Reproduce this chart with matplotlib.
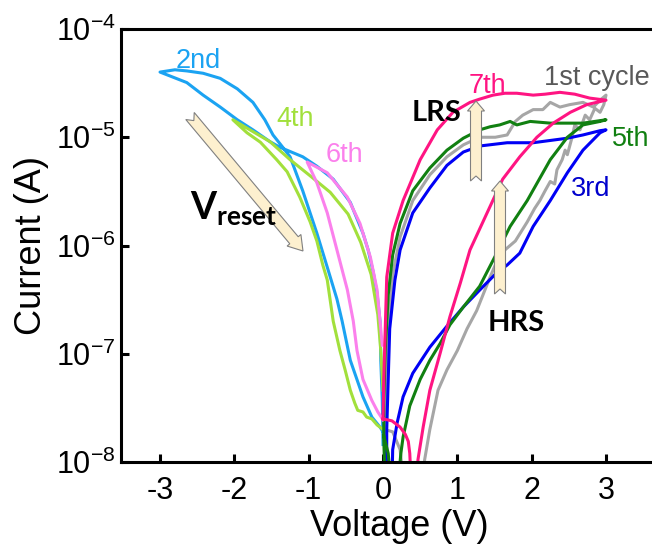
import numpy as np
import matplotlib
matplotlib.use("Agg")
import matplotlib.pyplot as plt
from matplotlib.patches import Polygon
from matplotlib.ticker import FuncFormatter

plt.rcParams["font.family"] = ["Liberation Sans", "DejaVu Sans"]
plt.rcParams["mathtext.fontset"] = "custom"
plt.rcParams["mathtext.rm"] = "Liberation Sans"
plt.rcParams["mathtext.bf"] = "Lato:bold"
plt.rcParams["axes.unicode_minus"] = False

# I-V sweeps, voltage (V) and |current| (A)
v_1st = [0.02, 0.13, 0.23, 0.28, 0.52, 0.56, 0.63, 0.74, 0.86, 1.00, 1.13, 1.26, 1.44, 1.53,
         1.64, 1.78, 1.94, 2.04, 2.11, 2.18, 2.25, 2.31, 2.34, 2.41, 2.45, 2.48, 2.54, 2.58,
         2.65, 2.72, 2.78, 2.85, 2.92, 2.97, 3.00, 2.92, 2.83, 2.69, 2.51, 2.38, 2.25, 2.15,
         2.02, 1.88, 1.78, 1.67, 1.51, 1.30, 1.08, 0.86, 0.63, 0.40, 0.23, 0.13, 0.07, 0.04,
         0.03, 0.04]
i_1st = [2.0e-8, 1.9e-8, 1.3e-8, 6e-9, 6e-9, 1.05e-8, 2.0e-8, 4.6e-8, 7.1e-8, 1.07e-7, 1.7e-7,
         2.5e-7, 5.1e-7, 7.1e-7, 9.1e-7, 1.1e-6, 1.65e-6, 2.2e-6, 2.6e-6, 3.2e-6, 3.9e-6,
         3.7e-6, 5.0e-6, 6.2e-6, 7.6e-6, 6.9e-6, 9.8e-6, 1.3e-5, 1.17e-5, 1.6e-5, 1.45e-5,
         1.85e-5, 1.7e-5, 2.0e-5, 2.45e-5, 2.2e-5, 1.9e-5, 2.1e-5, 2.0e-5, 1.9e-5, 2.1e-5,
         1.8e-5, 1.8e-5, 1.6e-5, 1.4e-5, 1.05e-5, 1.0e-5, 1.0e-5, 8.5e-6, 6.6e-6, 4.5e-6,
         2.6e-6, 1.2e-6, 5.4e-7, 1.7e-7, 5.8e-8, 2.45e-8, 1.45e-8]

v_2nd = [0.0, -0.01, -0.03, -0.04, -0.08, -0.13, -0.20, -0.27, -0.44, -0.67, -0.89, -1.08,
         -1.39, -1.52, -1.75, -1.96, -2.19, -2.42, -2.64, -3.00, -2.80, -2.64, -2.42, -2.19,
         -1.96, -1.75, -1.59, -1.48, -1.35, -1.25, -1.08, -0.89, -0.75, -0.62, -0.55, -0.44,
         -0.27, -0.15, -0.04, 0.0]
i_2nd = [1.45e-8, 3.7e-8, 8.7e-8, 2.0e-7, 3.6e-7, 5.6e-7, 9.1e-7, 1.3e-6, 2.5e-6, 4.1e-6,
         5.4e-6, 6.6e-6, 8.1e-6, 9.1e-6, 1.17e-5, 1.45e-5, 1.9e-5, 2.45e-5, 3.2e-5, 4.0e-5,
         4.2e-5, 4.1e-5, 3.9e-5, 3.5e-5, 2.8e-5, 2.1e-5, 1.45e-5, 1.05e-5, 8.1e-6, 6.6e-6,
         3.2e-6, 1.3e-6, 6.3e-7, 3.2e-7, 2.0e-7, 8.7e-8, 4.0e-8, 2.6e-8, 2.1e-8, 1.9e-8]

v_3rd = [0.03, 0.08, 0.12, 0.13, 0.19, 0.27, 0.40, 0.63, 0.86, 1.08, 1.35, 1.53, 1.67, 1.84,
         2.02, 2.25, 2.48, 2.69, 2.92, 3.0, 2.92, 2.69, 2.48, 2.02, 1.67, 1.30, 1.08, 0.86,
         0.63, 0.40, 0.23, 0.16, 0.09, 0.07, 0.05, 0.05]
i_3rd = [1.6e-8, 6e-9, 6e-9, 1.3e-8, 2.3e-8, 4.0e-8, 6.6e-8, 1.15e-7, 1.8e-7, 2.7e-7, 4.2e-7,
         5.6e-7, 6.6e-7, 8.5e-7, 1.5e-6, 2.6e-6, 4.7e-6, 7.6e-6, 1.1e-5, 1.17e-5, 1.15e-5,
         1.05e-5, 9.8e-6, 8.9e-6, 8.9e-6, 8.3e-6, 7.3e-6, 5.5e-6, 3.4e-6, 2.0e-6, 9.1e-7,
         4.8e-7, 1.7e-7, 5.8e-8, 2.0e-8, 6e-9]

v_4th = [0.0, -0.03, -0.07, -0.16, -0.30, -0.47, -0.71, -0.98, -1.25, -1.52, -1.79, -2.02,
         -1.83, -1.65, -1.43, -1.29, -1.12, -0.98, -0.89, -0.81, -0.75, -0.67, -0.58, -0.51,
         -0.44, -0.38, -0.34, -0.27, -0.22, -0.15, -0.08, 0.0]
i_4th = [4.6e-8, 1.07e-7, 2.3e-7, 5.4e-7, 1.07e-6, 1.95e-6, 3.1e-6, 4.4e-6, 6.2e-6, 9.1e-6,
         1.17e-5, 1.45e-5, 1.1e-5, 9.0e-6, 6.2e-6, 4.8e-6, 2.8e-6, 1.65e-6, 1.1e-6, 6.6e-7,
         4.8e-7, 2.0e-7, 1.07e-7, 7.1e-8, 4.6e-8, 3.5e-8, 3.0e-8, 2.9e-8, 2.6e-8, 2.5e-8,
         2.2e-8, 2.0e-8]

v_5th = [0.01, 0.07, 0.11, 0.20, 0.24, 0.27, 0.36, 0.50, 0.63, 0.77, 0.90, 1.08, 1.30, 1.53,
         1.71, 1.94, 2.25, 2.48, 2.69, 2.92, 3.0, 2.69, 2.25, 1.98, 1.80, 1.71, 1.57, 1.44,
         1.30, 1.08, 0.86, 0.63, 0.40, 0.23, 0.13, 0.07, 0.03, 0.01, 0.01, 0.03]
i_5th = [1.75e-8, 1.2e-8, 6e-9, 6e-9, 1.2e-8, 1.7e-8, 3.3e-8, 5.8e-8, 8.7e-8, 1.25e-7, 1.85e-7,
         2.7e-7, 4.2e-7, 8.5e-7, 1.5e-6, 2.6e-6, 6.2e-6, 1.0e-5, 1.3e-5, 1.4e-5, 1.45e-5,
         1.35e-5, 1.35e-5, 1.4e-5, 1.3e-5, 1.4e-5, 1.3e-5, 1.25e-5, 1.17e-5, 9.8e-6, 7.6e-6,
         5.2e-6, 3.2e-6, 1.6e-6, 8.2e-7, 3.5e-7, 1.07e-7, 3.7e-8, 1.6e-8, 6e-9]

v_6th = [-0.01, -0.04, -0.08, -0.17, -0.31, -0.48, -0.75, -1.02, -0.89, -0.75, -0.62, -0.48,
         -0.40, -0.35, -0.27, -0.15, -0.07, 0.0]
i_6th = [1.2e-7, 2.0e-7, 3.9e-7, 7.8e-7, 1.6e-6, 2.8e-6, 4.7e-6, 5.9e-6, 3.8e-6, 2.0e-6,
         9.1e-7, 3.9e-7, 2.0e-7, 1.07e-7, 5.8e-8, 3.7e-8, 2.9e-8, 2.45e-8]

v_7th = [0.0, 0.12, 0.23, 0.30, 0.34, 0.36, 0.38, 0.46, 0.47, 0.54, 0.63, 0.77, 0.90, 1.04,
         1.17, 1.40, 1.61, 1.84, 2.07, 2.29, 2.52, 2.74, 3.0, 2.78, 2.58, 2.38, 2.18, 2.02,
         1.80, 1.64, 1.48, 1.30, 1.17, 0.94, 0.73, 0.50, 0.27, 0.13, 0.05, 0.03, 0.01, 0.0]
i_7th = [2.5e-8, 2.4e-8, 2.1e-8, 1.8e-8, 1.55e-8, 1.2e-8, 6e-9, 6e-9, 1.05e-8, 2.1e-8, 4.6e-8,
         1.02e-7, 2.2e-7, 4.5e-7, 9.1e-7, 2.0e-6, 4.1e-6, 6.6e-6, 1.0e-5, 1.35e-5, 1.7e-5,
         2.0e-5, 2.2e-5, 2.3e-5, 2.5e-5, 2.6e-5, 2.5e-5, 2.45e-5, 2.55e-5, 2.55e-5, 2.45e-5,
         2.25e-5, 2.1e-5, 1.7e-5, 1.17e-5, 6.2e-6, 2.6e-6, 1.3e-6, 5.1e-7, 1.7e-7, 5.8e-8,
         2.5e-8]

curves = [
    (v_1st, i_1st, "#a6a6a6"),
    (v_2nd, i_2nd, "#1ba3f2"),
    (v_3rd, i_3rd, "#0000f5"),
    (v_4th, i_4th, "#a2e03c"),
    (v_5th, i_5th, "#118011"),
    (v_6th, i_6th, "#fb80ec"),
    (v_7th, i_7th, "#ff1482"),
]

W, H = 652, 546
fig = plt.figure(figsize=(W / 100, H / 100), dpi=100)
ax = fig.add_axes([121 / W, 84 / H, 556 / W, 433 / H])

for v, i, c in curves:
    ax.plot(v, i, color=c, lw=2.2, solid_joinstyle="round")

ax.set_yscale("log")
ax.set_ylim(1e-8, 1e-4)
ax.set_xlim(-3.525, 3.955)
ax.set_xticks([-3, -2, -1, 0, 1, 2, 3])
ax.yaxis.set_major_formatter(FuncFormatter(lambda y, p: r"10$^{%d}$" % round(np.log10(y))))
ax.yaxis.set_minor_locator(plt.NullLocator())
ax.tick_params(direction="in", length=6, width=2.2, labelsize=22)
ax.tick_params(axis="x", pad=10)
ax.tick_params(axis="y", pad=4)
for s in ["left", "bottom", "top"]:
    ax.spines[s].set_linewidth(2.2)
ax.spines["right"].set_visible(False)
ax.set_xlabel("Voltage (V)", fontsize=26, labelpad=2)
ax.set_ylabel("Current (A)", fontsize=26, labelpad=5)


def fpt(px, py):
    return px / W, 1 - py / H


def block_arrow(tail, tip, sw=5.5, hw=8.5, hl=10, notch=5):
    tail = np.array(tail, float)
    tip = np.array(tip, float)
    u = (tip - tail) / np.hypot(*(tip - tail))
    n = np.array([-u[1], u[0]])
    base = tip - u * hl
    pts = [tip, base + n * hw, base + n * sw, tail + n * sw, tail + u * notch,
           tail - n * sw, base - n * sw, base - n * hw]
    pts = [fpt(*p) for p in pts]
    fig.patches.append(Polygon(pts, closed=True, transform=fig.transFigure,
                               facecolor="#fdf0cf", edgecolor="#808080", lw=0.8))


block_arrow((190, 116), (303, 251), hw=9, hl=14, notch=6)
block_arrow((476, 181), (476, 101))
block_arrow((500, 294), (500, 181))

labels = [
    ("2nd", 198, 61, "#1ba3f2"),
    ("4th", 295, 119, "#a2e03c"),
    ("6th", 344, 155, "#fb80ec"),
    ("7th", 487, 86, "#ff1482"),
    ("1st cycle", 597, 78, "#595959"),
    ("5th", 631, 139, "#118011"),
    ("3rd", 591, 189, "#0000cd"),
]
for t, px, py, c in labels:
    fig.text(*fpt(px, py), t, color=c, fontsize=19.5, ha="center", va="center")

for t, px, py in [("LRS", 437, 113), ("HRS", 516, 323)]:
    fig.text(*fpt(px, py), t, fontsize=21, fontfamily="Lato", fontweight="bold",
             ha="center", va="center")
fig.text(*fpt(234, 209), r"$\mathbf{V}_{\mathbf{reset}}$", fontsize=27,
         ha="center", va="center")

fig.savefig("out.png", dpi=100)
